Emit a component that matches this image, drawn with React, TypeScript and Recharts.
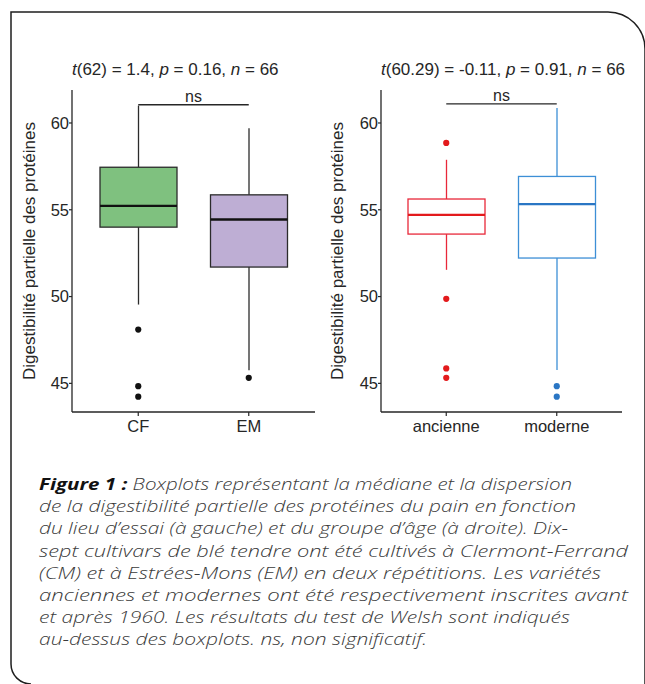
import { ComposedChart, Bar, Scatter, XAxis, YAxis, ReferenceLine, Cell } from 'recharts'

// left panel: trial site
const SITE_CATS = ['CF', 'EM']
const SITE_LO = [49.54, 45.76]
const SITE_Q1 = [54.0, 51.7]
const SITE_MED = [55.23, 54.44]
const SITE_Q3 = [57.45, 55.86]
const SITE_HI = [61.0, 59.69]
const SITE_OUT_CAT = ['CF', 'CF', 'CF', 'EM']
const SITE_OUT_VAL = [48.1, 44.84, 44.23, 45.32]

// right panel: age group
const AGE_CATS = ['ancienne', 'moderne']
const AGE_LO = [51.54, 45.77]
const AGE_Q1 = [53.6, 52.22]
const AGE_MED = [54.71, 55.33]
const AGE_Q3 = [55.62, 56.92]
const AGE_HI = [57.88, 60.86]
const AGE_OUT_CAT = ['ancienne', 'ancienne', 'ancienne', 'ancienne', 'moderne', 'moderne']
const AGE_OUT_VAL = [58.85, 49.87, 45.86, 45.32, 44.84, 44.23]

const Y_TICKS = [45, 50, 55, 60]
const Y_DOMAIN: [number, number] = [43.35, 61.9]
const BRACKET_Y = [61.05, 61.1]
const Y_TITLE = 'Digestibilité partielle des protéines'

const CAPTION = [
  'Boxplots représentant la médiane et la dispersion',
  'de la digestibilité partielle des protéines du pain en fonction',
  'du lieu d’essai (à gauche) et du groupe d’âge (à droite). Dix-',
  'sept cultivars de blé tendre ont été cultivés à Clermont-Ferrand',
  '(CM) et à Estrées-Mons (EM) en deux répétitions. Les variétés',
  'anciennes et modernes ont été respectivement inscrites avant',
  'et après 1960. Les résultats du test de Welsh sont indiqués',
  'au-dessus des boxplots. ns, non significatif.',
]
const CAPTION_END = [572, 576, 568, 628, 601, 628, 570, 427]

const FONT = '"Liberation Sans", Arial, sans-serif'
const INK = '#262626'

function boxRows(cats: string[], lo: number[], q1: number[], med: number[], q3: number[], hi: number[]) {
  return cats.map((cat, i) => ({ cat, range: [lo[i], hi[i]], lo: lo[i], q1: q1[i], med: med[i], q3: q3[i], hi: hi[i] }))
}

function outRows(cats: string[], vals: number[]) {
  return cats.map((cat, i) => ({ cat, v: vals[i] }))
}

function BoxShape(props: any) {
  const { x, y, width, height, payload, index, fills, strokes, medStrokes } = props
  const top = Math.min(y, y + height)
  const h = Math.abs(height)
  const k = h / (payload.hi - payload.lo)
  const py = (v: number) => top + (payload.hi - v) * k
  const cx = x + width / 2
  const stroke = strokes[index]
  return (
    <g>
      <line x1={cx} x2={cx} y1={py(payload.hi)} y2={py(payload.q3)} stroke={stroke} strokeWidth={1.3} />
      <line x1={cx} x2={cx} y1={py(payload.q1)} y2={py(payload.lo)} stroke={stroke} strokeWidth={1.3} />
      <rect x={x} y={py(payload.q3)} width={width} height={py(payload.q1) - py(payload.q3)} fill={fills[index]} stroke={stroke} strokeWidth={1.3} />
      <line x1={x} x2={x + width} y1={py(payload.med)} y2={py(payload.med)} stroke={medStrokes[index]} strokeWidth={2.3} />
    </g>
  )
}

const yLabel = (bx: number) => (props: any) => {
  const vb = props.viewBox
  const cy = vb.y + vb.height / 2
  return (
    <text x={bx} y={cy} transform={`rotate(-90 ${bx} ${cy})`} textAnchor="middle" fontSize={17} fill={INK} fontFamily={FONT}>
      {Y_TITLE}
    </text>
  )
}

interface PanelProps {
  rows: any[]
  outs: any[]
  outColors: string[]
  fills: string[]
  strokes: string[]
  medStrokes: string[]
  width: number
  margin: { top: number; right: number; bottom: number; left: number }
  pad: number
  labelX: number
  bracket: number
}

function Panel({ rows, outs, outColors, fills, strokes, medStrokes, width, margin, pad, labelX, bracket }: PanelProps) {
  const first = rows[0].cat
  const last = rows[rows.length - 1].cat
  return (
    <ComposedChart width={width} height={450} data={rows} margin={margin}>
      <XAxis
        dataKey="cat"
        type="category"
        allowDuplicatedCategory={false}
        padding={{ left: pad, right: pad }}
        height={30}
        tickSize={4}
        tickMargin={4}
        axisLine={{ stroke: INK, strokeWidth: 1.3 }}
        tickLine={{ stroke: INK, strokeWidth: 1.2 }}
        tick={{ fill: INK, fontSize: 16.5, fontFamily: FONT }}
      />
      <YAxis
        type="number"
        domain={Y_DOMAIN}
        ticks={Y_TICKS}
        allowDataOverflow
        width={30}
        tickSize={3}
        tickMargin={0}
        axisLine={{ stroke: INK, strokeWidth: 1.3 }}
        tickLine={{ stroke: INK, strokeWidth: 1.2 }}
        tick={{ fill: INK, fontSize: 16.5, fontFamily: FONT }}
        label={{ content: yLabel(labelX) }}
      />
      <Bar
        dataKey="range"
        barSize={77}
        isAnimationActive={false}
        shape={(p: any) => <BoxShape {...p} fills={fills} strokes={strokes} medStrokes={medStrokes} />}
      />
      <Scatter
        data={outs}
        dataKey="v"
        isAnimationActive={false}
        shape={(p: any) => <circle cx={p.cx} cy={p.cy} r={3.1} fill={p.fill} />}
      >
        {outs.map((o, i) => (
          <Cell key={i} fill={outColors[i]} />
        ))}
      </Scatter>
      <ReferenceLine
        segment={[{ x: first, y: bracket }, { x: last, y: bracket }]}
        stroke={INK}
        strokeWidth={1.3}
        label={{ value: 'ns', position: 'top', offset: 3, fill: INK, fontSize: 16, fontFamily: FONT }}
      />
    </ComposedChart>
  )
}

export default function App() {
  const siteRows = boxRows(SITE_CATS, SITE_LO, SITE_Q1, SITE_MED, SITE_Q3, SITE_HI)
  const ageRows = boxRows(AGE_CATS, AGE_LO, AGE_Q1, AGE_MED, AGE_Q3, AGE_HI)
  const siteOuts = outRows(SITE_OUT_CAT, SITE_OUT_VAL)
  const ageOuts = outRows(AGE_OUT_CAT, AGE_OUT_VAL)
  const ageDot = (c: string) => (c === 'ancienne' ? '#e31a1c' : '#2a76c4')

  return (
    <div style={{ position: 'absolute', left: 0, top: 0, width: 645, height: 684, background: '#fff', overflow: 'hidden' }}>
      <div style={{ position: 'absolute', left: 0, top: 0 }}>
        <Panel
          rows={siteRows}
          outs={siteOuts}
          outColors={siteOuts.map(() => '#111')}
          fills={['#7fc17f', '#beaed4']}
          strokes={['#2b2b2b', '#2b2b2b']}
          medStrokes={['#111', '#111']}
          width={330}
          margin={{ top: 90, right: 15, bottom: 8, left: 42 }}
          pad={11}
          labelX={35}
          bracket={BRACKET_Y[0]}
        />
      </div>
      <div style={{ position: 'absolute', left: 320, top: 0 }}>
        <Panel
          rows={ageRows}
          outs={ageOuts}
          outColors={ageOuts.map((o) => ageDot(o.cat))}
          fills={['#ffffff', '#ffffff']}
          strokes={['#e8283a', '#3d8fd6']}
          medStrokes={['#e31a1c', '#2a76c4']}
          width={325}
          margin={{ top: 90, right: 23, bottom: 8, left: 31 }}
          pad={10}
          labelX={23}
          bracket={BRACKET_Y[1]}
        />
      </div>
      <svg width={645} height={684} style={{ position: 'absolute', left: 0, top: 0, pointerEvents: 'none' }}>
        <path
          d="M 608 12 L 11 12 L 11 664 A 20 20 0 0 0 31 684"
          fill="none"
          stroke="#1e1e1e"
          strokeWidth={1.5}
        />
        <path d="M 608 12 A 37 37 0 0 1 645 49 L 645 684" fill="none" stroke="#1e1e1e" strokeWidth={1.5} />
        <text x={72} y={75} fontSize={17} fill={INK} fontFamily={FONT}>
          <tspan fontStyle="italic">t</tspan>(62) = 1.4, <tspan fontStyle="italic">p</tspan> = 0.16,{' '}
          <tspan fontStyle="italic">n</tspan> = 66
        </text>
        <text x={381} y={75} fontSize={17} fill={INK} fontFamily={FONT}>
          <tspan fontStyle="italic">t</tspan>(60.29) = -0.11, <tspan fontStyle="italic">p</tspan> = 0.91,{' '}
          <tspan fontStyle="italic">n</tspan> = 66
        </text>
        {CAPTION.map((line, i) => (
          <text
            key={i}
            x={39}
            y={490 + i * 22.2}
            textLength={CAPTION_END[i] - 39}
            lengthAdjust="spacingAndGlyphs"
            fontSize={16}
            fontStyle="italic"
            fontWeight={300}
            fill="#3a3a3a"
            fontFamily='"Open Sans", Lato, sans-serif'
          >
            {i === 0 ? (
              <>
                <tspan fontWeight={700} fill="#111">Figure 1 :</tspan>
                <tspan> {line}</tspan>
              </>
            ) : (
              line
            )}
          </text>
        ))}
      </svg>
    </div>
  )
}
